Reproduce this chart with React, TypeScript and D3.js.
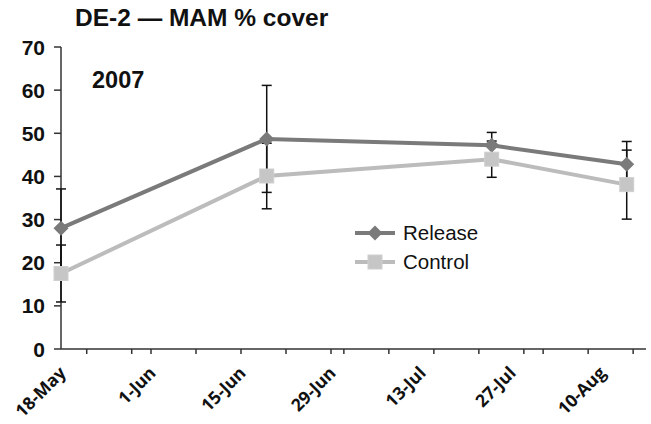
import React from "react";
import * as d3 from "d3";

const sampleDates = ["2007-05-18", "2007-06-19", "2007-07-24", "2007-08-14"];
const releaseValues = [28.0, 48.7, 47.2, 42.8];
const releaseErrors = [9.1, 12.4, 3.0, 5.3];
const controlValues = [17.5, 40.1, 44.0, 38.1];
const controlErrors = [6.6, 7.6, 4.2, 8.0];
const yTicks = [0, 10, 20, 30, 40, 50, 60, 70];
const xLabelDates = ["2007-05-18", "2007-06-01", "2007-06-15", "2007-06-29", "2007-07-13", "2007-07-27", "2007-08-10"];
const xLabels = ["18-May", "1-Jun", "15-Jun", "29-Jun", "13-Jul", "27-Jul", "10-Aug"];

const W = 651, H = 424;
const parse = d3.utcParse("%Y-%m-%d");

export default function App() {
  const x = d3.scaleUtc().domain([parse("2007-05-18")!, parse("2007-08-17")!]).range([61, 646]);
  const y = d3.scaleLinear().domain([0, 70]).range([349, 47]);
  const minorTicks = d3.utcDay.every(7)!.range(parse("2007-05-18")!, parse("2007-08-18")!);

  const series = [
    { name: "Release", values: releaseValues, errors: releaseErrors, color: "#7a7a7a", marker: "diamond" },
    { name: "Control", values: controlValues, errors: controlErrors, color: "#bcbcbc", marker: "square" },
  ];
  const pts = (vals: number[]) => vals.map((v, i) => [x(parse(sampleDates[i])!), y(v)] as [number, number]);
  const line = d3.line();
  const axisColor = "#333";

  const marker = (m: string, cx: number, cy: number, color: string, key: string) =>
    m === "diamond" ? (
      <path key={key} d={`M${cx},${cy - 7.5}L${cx + 7.5},${cy}L${cx},${cy + 7.5}L${cx - 7.5},${cy}Z`} fill={color} />
    ) : (
      <rect key={key} x={cx - 7} y={cy - 7} width={14} height={14} fill="#c6c6c6" stroke="#cfcfcf" strokeWidth={1} />
    );

  return (
    <svg width={W} height={H} style={{ position: "absolute", left: 0, top: 0, background: "#fff" }}
      fontFamily="'Liberation Sans', Arial, sans-serif">
      <text x={75} y={26} fontSize={24.5} fontWeight="bold" fill="#111">DE-2 — MAM % cover</text>
      <text x={92} y={88} fontSize={23.5} fontWeight="bold" fill="#111">2007</text>

      {/* y axis */}
      <line x1={61} x2={61} y1={y(70)} y2={y(0)} stroke={axisColor} strokeWidth={1.5} />
      {yTicks.map((t) => (
        <g key={t}>
          <line x1={54} x2={61} y1={y(t)} y2={y(t)} stroke={axisColor} strokeWidth={1.5} />
          <text x={45} y={y(t)} dy="0.36em" textAnchor="end" fontSize={21} fontWeight="bold" fill="#111">{t}</text>
        </g>
      ))}

      {/* x axis */}
      <line x1={61} x2={646} y1={y(0)} y2={y(0)} stroke={axisColor} strokeWidth={1.5} />
      {minorTicks.map((d, i) => (
        <line key={i} x1={x(d)} x2={x(d)} y1={y(0)} y2={y(0) + 5} stroke={axisColor} strokeWidth={1.5} />
      ))}
      {xLabelDates.map((d, i) => {
        const px = x(parse(d)!) + 6;
        const py = 374;
        return (
          <text key={d} textAnchor="end" transform={`translate(${px},${py}) rotate(-45)`}
            fontFamily="'Open Sans', sans-serif" fontSize={17.5} fontWeight="bold" fill="#111">{xLabels[i]}</text>
        );
      })}

      {/* error bars */}
      {series.map((s) =>
        s.values.map((v, i) => {
          const cx = x(parse(sampleDates[i])!);
          const y1 = y(v + s.errors[i]);
          const y2 = y(v - s.errors[i]);
          return (
            <g key={s.name + i} stroke="#111" strokeWidth={1.5}>
              <line x1={cx} x2={cx} y1={y1} y2={y2} />
              <line x1={cx - 5} x2={cx + 5} y1={y1} y2={y1} />
              <line x1={cx - 5} x2={cx + 5} y1={y2} y2={y2} />
            </g>
          );
        })
      )}

      {/* lines */}
      {series.map((s) => (
        <path key={s.name} d={line(pts(s.values))!} fill="none" stroke={s.color} strokeWidth={4} />
      ))}
      {series.map((s) => pts(s.values).map(([cx, cy], i) => marker(s.marker, cx, cy, s.color, s.name + "m" + i)))}

      {/* legend */}
      {series.map((s, i) => {
        const ly = 233 + i * 29;
        return (
          <g key={s.name}>
            <line x1={355} x2={395} y1={ly} y2={ly} stroke={s.color} strokeWidth={4} />
            {marker(s.marker, 375, ly, s.color, s.name + "lg")}
            <text x={403} y={ly} dy="0.36em" fontSize={20.5} fill="#111">{s.name}</text>
          </g>
        );
      })}
    </svg>
  );
}
